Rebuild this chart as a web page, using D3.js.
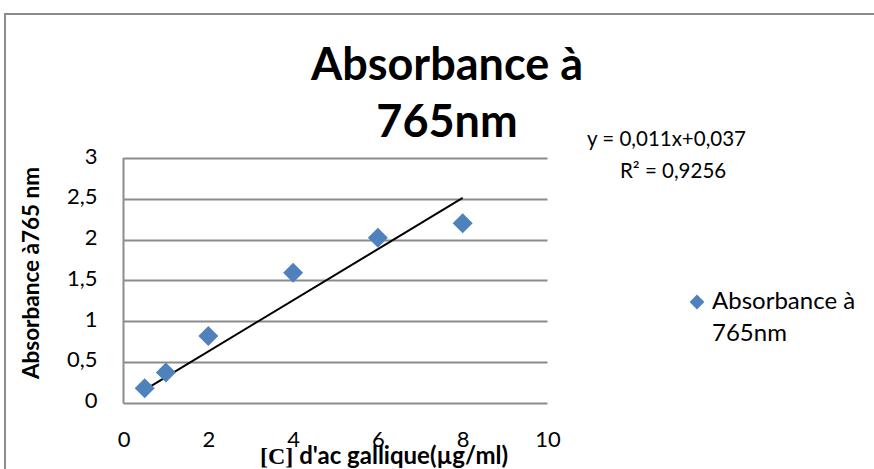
<!DOCTYPE html>
<html><head><meta charset="utf-8">
<script src="https://cdn.jsdelivr.net/npm/d3@7"></script>
<style>
html,body{margin:0;padding:0;background:#fff;overflow:hidden}
svg{display:block}
text{font-family:Lato,"Open Sans",sans-serif;fill:#000}
</style></head>
<body>
<script>
// Data
const concentrations = [0.5, 1, 2, 4, 6, 8];
const absorbances = [0.176, 0.367, 0.817, 1.593, 2.02, 2.198];
const trendX = [0.5, 8];
const trendY = [0.155, 2.51];
const xTicks = [0, 2, 4, 6, 8, 10];
const yTicks = [0, 0.5, 1, 1.5, 2, 2.5, 3];
const titleLines = ["Absorbance à", "765nm"];
const equationLines = ["y = 0,011x+0,037", "R² = 0,9256"];
const seriesName = ["Absorbance à", "765nm"];
const yTitle = "Absorbance à765 nm";

const W = 874, H = 469;
const svg = d3.select("body").append("svg").attr("width", W).attr("height", H);

// outer frame
svg.append("rect").attr("x", 5).attr("y", 14).attr("width", W + 10).attr("height", H + 10)
  .attr("fill", "none").attr("stroke", "#8c8c8c").attr("stroke-width", 2);

const x = d3.scaleLinear().domain([0, 10]).range([123.5, 547.5]);
const y = d3.scaleLinear().domain([0, 3]).range([402.5, 158]);
const fmt = d => String(d).replace(".", ",");

// gridlines
svg.append("g").selectAll("line").data(yTicks).join("line")
  .attr("x1", x(0)).attr("x2", x(10))
  .attr("y1", d => Math.round(y(d)) + 0.5).attr("y2", d => Math.round(y(d)) + 0.5)
  .attr("stroke", "#8c8c8c").attr("stroke-width", 2);

// y axis line
svg.append("line").attr("x1", x(0)).attr("x2", x(0)).attr("y1", y(3)).attr("y2", y(0) + 1)
  .attr("stroke", "#8c8c8c").attr("stroke-width", 2);

// y tick labels
const yAxis = d3.axisLeft(y).tickValues(yTicks).tickFormat(fmt).tickSize(0).tickPadding(26);
const gy = svg.append("g").attr("transform", `translate(${x(0)},-2)`).call(yAxis);
gy.select(".domain").remove();
gy.selectAll("text").style("font-size", "22px").style("font-family", "Lato,sans-serif").attr("fill", "#000");

// x tick labels
const xAxis = d3.axisBottom(x).tickValues(xTicks).tickFormat(fmt).tickSize(0).tickPadding(29);
const gx = svg.append("g").attr("transform", `translate(0,${y(0)})`).call(xAxis);
gx.select(".domain").remove();
gx.selectAll("text").style("font-size", "22px").style("font-family", "Lato,sans-serif").attr("fill", "#000");

// trendline
svg.append("path")
  .attr("d", d3.line().x((d, i) => x(trendX[i])).y(d => y(d))(trendY))
  .attr("stroke", "#000").attr("stroke-width", 2).attr("fill", "none");

// points
const diamond = d3.symbol().type(d3.symbolSquare).size(200);
svg.append("g").selectAll("path").data(concentrations).join("path")
  .attr("d", diamond)
  .attr("transform", (d, i) => `translate(${x(d)},${y(absorbances[i])}) rotate(45)`)
  .attr("fill", "#4F81BD");

// title
svg.append("g").selectAll("text").data(titleLines).join("text")
  .attr("x", 447).attr("y", (d, i) => 80 + i * 57)
  .attr("text-anchor", "middle").style("font-size", "45px").style("font-weight", "bold")
  .text(d => d);

// equation
svg.append("text").attr("x", 587).attr("y", 146).style("font-size", "20.5px").text(equationLines[0]);
svg.append("text").attr("x", 620).attr("y", 178).style("font-size", "20.5px").text(equationLines[1]);

// y title
svg.append("text").attr("transform", `translate(39,273) rotate(-90)`)
  .attr("text-anchor", "middle").style("font-size", "22.5px").style("font-weight", "bold").text(yTitle);

// x title
const xt = svg.append("text").attr("x", 260).attr("y", 464).style("font-size", "24px").style("font-weight", "bold");
xt.append("tspan").style("font-family", "'Liberation Serif',serif").text("[C]");
xt.append("tspan").text(" d'ac gallique(µg/ml)");

// legend
svg.append("path").attr("d", d3.symbol().type(d3.symbolSquare).size(110))
  .attr("transform", "translate(697,302) rotate(45)").attr("fill", "#4F81BD");
svg.append("g").selectAll("text").data(seriesName).join("text")
  .attr("x", 712).attr("y", (d, i) => 309 + i * 32).style("font-size", "24px").text(d => d);
</script>
</body></html>
